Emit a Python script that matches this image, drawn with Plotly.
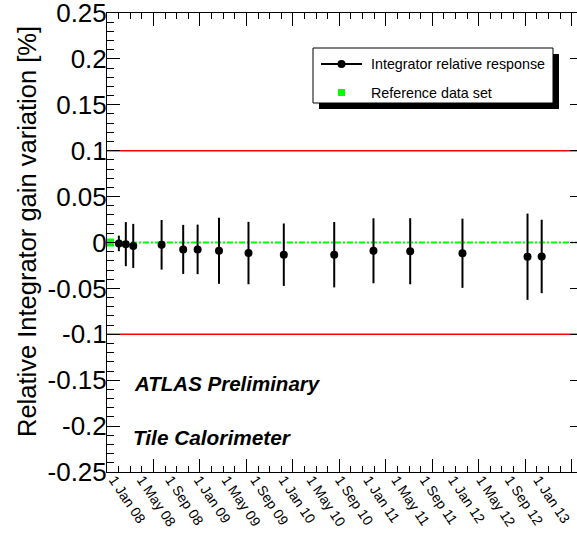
import plotly.graph_objects as go

# ---------------- data ----------------
dates = ["2008-02-17", "2008-03-18", "2008-04-19", "2008-08-19", "2008-11-20",
         "2009-01-21", "2009-04-23", "2009-08-28", "2010-01-27", "2010-09-01",
         "2011-02-17", "2011-07-25", "2012-03-06", "2012-12-11", "2013-02-10"]
values = [-0.001, -0.0018, -0.0037, -0.0025, -0.0075,
          -0.0075, -0.009, -0.0115, -0.0133, -0.0133,
          -0.009, -0.0095, -0.0117, -0.0155, -0.0152]
errors = [0.0085, 0.024, 0.024, 0.027, 0.0267,
          0.027, 0.036, 0.034, 0.034, 0.0356,
          0.0354, 0.036, 0.0377, 0.047, 0.040]
ref_dates = ["2008-01-10"]
ref_values = [0.0]
limit_values = [0.1, -0.1]

label_dates = ["2008-01-01", "2008-05-01", "2008-09-01", "2009-01-01", "2009-05-01",
               "2009-09-01", "2010-01-01", "2010-05-01", "2010-09-01", "2011-01-01",
               "2011-05-01", "2011-09-01", "2012-01-01", "2012-05-01", "2012-09-01",
               "2013-01-01"]
label_texts = ["1 Jan 08", "1 May 08", "1 Sep 08", "1 Jan 09", "1 May 09",
               "1 Sep 09", "1 Jan 10", "1 May 10", "1 Sep 10", "1 Jan 11",
               "1 May 11", "1 Sep 11", "1 Jan 12", "1 May 12", "1 Sep 12",
               "1 Jan 13"]
ytick_vals = [0.25, 0.2, 0.15, 0.1, 0.05, 0, -0.05, -0.1, -0.15, -0.2, -0.25]
ytick_text = ["0.25", "0.2", "0.15", "0.1", "0.05", "0", "-0.05", "-0.1", "-0.15", "-0.2", "-0.25"]

X_RANGE = ["2007-12-28", "2013-07-12"]
LABEL_RANGE = ["2007-12-02", "2013-06-16"]   # label axis, offset so text starts right of date
Y_RANGE = [-0.25, 0.25]

# ---------------- layout geometry ----------------
W, H = 577, 539
ML, MR, MT, MB = 107, 0, 13, 67
PW, PH = W - ML - MR, H - MT - MB


def px(x):
    return (x - ML) / PW


def py(y):
    return (H - MB - y) / PH


DAY = 86400000
FONT = "Liberation Sans, Arial, Helvetica, sans-serif"

fig = go.Figure()

# data points with error bars
fig.add_trace(go.Scatter(
    x=dates, y=values, mode="markers",
    marker=dict(color="black", size=8, symbol="circle"),
    error_y=dict(type="data", array=errors, color="black", thickness=2, width=0),
    showlegend=False, hoverinfo="x+y"))

# reference data set
fig.add_trace(go.Scatter(
    x=ref_dates, y=ref_values, mode="markers",
    marker=dict(color="#00ff00", size=8, symbol="square"),
    showlegend=False))

# invisible traces to activate helper axes
fig.add_trace(go.Scatter(x=[label_dates[0]], y=[0], xaxis="x2", yaxis="y",
                         mode="markers", marker=dict(opacity=0), showlegend=False, hoverinfo="skip"))
fig.add_trace(go.Scatter(x=[label_dates[0]], y=[0], xaxis="x", yaxis="y2",
                         mode="markers", marker=dict(opacity=0), showlegend=False, hoverinfo="skip"))

shapes = []
for v in limit_values:
    shapes.append(dict(type="line", xref="paper", yref="y", x0=0, x1=1, y0=v, y1=v,
                       line=dict(color="#ff0000", width=1.5), layer="below"))
shapes.append(dict(type="line", xref="paper", yref="y", x0=0, x1=1, y0=0, y1=0,
                   line=dict(color="#00ff00", width=2, dash="6px,2px,2px,2px"), layer="below"))

# legend box (with shadow)
lx0, lx1, ly0, ly1 = 313, 553, 48, 103
shapes.append(dict(type="rect", xref="paper", yref="paper",
                   x0=px(lx0 + 6), x1=px(lx1 + 6), y0=py(ly1 + 6), y1=py(ly0 + 6),
                   fillcolor="black", line=dict(width=0), layer="above"))
shapes.append(dict(type="rect", xref="paper", yref="paper",
                   x0=px(lx0), x1=px(lx1), y0=py(ly1), y1=py(ly0),
                   fillcolor="white", line=dict(color="black", width=1), layer="above"))
shapes.append(dict(type="line", xref="paper", yref="paper",
                   x0=px(321), x1=px(362), y0=py(64), y1=py(64),
                   line=dict(color="black", width=2), layer="above"))
shapes.append(dict(type="circle", xref="paper", yref="paper",
                   x0=px(337.5), x1=px(345.5), y0=py(68), y1=py(60),
                   fillcolor="black", line=dict(color="black", width=0), layer="above"))
shapes.append(dict(type="rect", xref="paper", yref="paper",
                   x0=px(338), x1=px(345), y0=py(96), y1=py(89),
                   fillcolor="#00ff00", line=dict(width=0), layer="above"))

annotations = [
    dict(text="Integrator relative response", xref="paper", yref="paper",
         x=px(369), y=py(64), xanchor="left", yanchor="middle", showarrow=False,
         font=dict(family=FONT, size=14.3, color="black")),
    dict(text="Reference data set", xref="paper", yref="paper",
         x=px(369), y=py(92.5), xanchor="left", yanchor="middle", showarrow=False,
         font=dict(family=FONT, size=14.3, color="black")),
    dict(text="<b><i>ATLAS Preliminary</i></b>", xref="paper", yref="paper",
         x=px(132), y=py(383), xanchor="left", yanchor="middle", showarrow=False,
         font=dict(family=FONT, size=20.5, color="black")),
    dict(text="<b><i>Tile Calorimeter</i></b>", xref="paper", yref="paper",
         x=px(131), y=py(437), xanchor="left", yanchor="middle", showarrow=False,
         font=dict(family=FONT, size=20.8, color="black")),
    dict(text="Relative Integrator gain variation [%]", xref="paper", yref="paper",
         x=px(27), y=py(232), xanchor="center", yanchor="middle", textangle=-90,
         showarrow=False, font=dict(family=FONT, size=25.5, color="black")),
]

fig.update_layout(
    width=W, height=H,
    margin=dict(l=ML, r=MR, t=MT, b=MB, pad=0, autoexpand=False),
    paper_bgcolor="white", plot_bgcolor="white",
    font=dict(family=FONT, color="black"),
    showlegend=False,
    shapes=shapes, annotations=annotations,
    xaxis=dict(type="date", range=X_RANGE, showgrid=False, zeroline=False, automargin=False,
               tick0=X_RANGE[0], dtick=200 * DAY, ticks="inside", ticklen=13,
               tickwidth=1, tickcolor="black", showticklabels=False,
               showline=True, linecolor="black", linewidth=1, mirror="ticks",
               minor=dict(tick0=X_RANGE[0], dtick=50 * DAY, ticks="inside",
                          ticklen=6, tickwidth=1, tickcolor="black", showgrid=False)),
    xaxis2=dict(type="date", range=LABEL_RANGE, overlaying="x", side="bottom", anchor="y",
                showgrid=False, zeroline=False, automargin=False, tickmode="array",
                tickvals=label_dates, ticktext=label_texts, ticks="", tickangle=56,
                ticklabelstandoff=-4,
                tickfont=dict(family=FONT, size=14, color="black"), showline=False),
    yaxis=dict(range=Y_RANGE, showgrid=False, zeroline=False, automargin=False,
               tickmode="array", ticklabeloverflow="allow",
               tickvals=ytick_vals, ticktext=ytick_text, ticks="inside", ticklen=13,
               tickwidth=1, tickcolor="black", ticklabelstandoff=-6,
               tickfont=dict(family=FONT, size=26, color="black"),
               showline=True, linecolor="black", linewidth=1,
               minor=dict(dtick=0.01, tick0=0, ticks="inside", ticklen=6.5, tickwidth=1,
                          tickcolor="black", showgrid=False)),
    yaxis2=dict(range=Y_RANGE, overlaying="y", side="right", anchor="x", automargin=False,
                showgrid=False, zeroline=False, tickmode="array", tickvals=ytick_vals,
                ticks="inside", ticklen=7, tickwidth=1, tickcolor="black",
                showticklabels=False, showline=False),
)

fig.write_html("out.html", config={"displayModeBar": False},
               post_script="document.body.style.margin='0';document.body.style.overflow='hidden';")
